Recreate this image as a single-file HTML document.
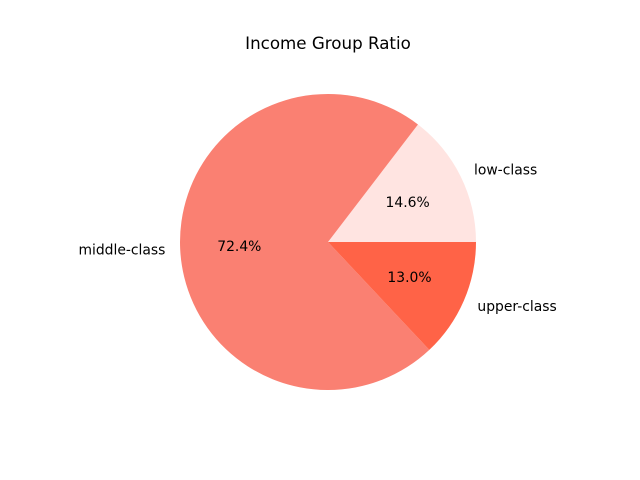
<!DOCTYPE html>
<html>
<head>
<meta charset="utf-8">
<style>
html,body{margin:0;padding:0;background:#fff;}
svg{display:block;font-family:"DejaVu Sans","Liberation Sans",sans-serif;}
</style>
</head>
<body>
<svg id="chart" width="640" height="480" viewBox="0 0 640 480">
<rect width="640" height="480" fill="#fff"/>
<text x="328" y="49" text-anchor="middle" font-size="16.7" fill="#000">Income Group Ratio</text>
<g id="slices"></g>
</svg>
<script>
const categories = ["low-class", "middle-class", "upper-class"];
const values = [14.6, 72.4, 13.0];
const colors = ["#FFE4E1", "#FA8072", "#FF6347"];

const svg = document.getElementById('chart');
const g = document.getElementById('slices');
const NS = 'http://www.w3.org/2000/svg';
const cx = 328, cy = 242, R = 148;
const total = values.reduce((a, b) => a + b, 0);
function pt(a, r) { return [cx + r * Math.cos(a), cy - r * Math.sin(a)]; }
let start = 0;
values.forEach((v, i) => {
  const sweep = v / total * 2 * Math.PI;
  const end = start + sweep;
  const [x1, y1] = pt(start, R), [x2, y2] = pt(end, R);
  const large = sweep > Math.PI ? 1 : 0;
  const p = document.createElementNS(NS, 'path');
  p.setAttribute('d', `M${cx},${cy} L${x1},${y1} A${R},${R} 0 ${large} 0 ${x2},${y2} Z`);
  p.setAttribute('fill', colors[i]);
  
  
  g.appendChild(p);
  const mid = start + sweep / 2;
  const [lx, ly] = pt(mid, R * 1.1);
  const t = document.createElementNS(NS, 'text');
  t.setAttribute('x', lx);
  t.setAttribute('y', ly + 4.5);
  t.setAttribute('font-size', '13.9');
  t.setAttribute('text-anchor', Math.cos(mid) >= 0 ? 'start' : 'end');
  t.textContent = categories[i];
  
  
  svg.appendChild(t);
  const [px, py] = pt(mid, R * 0.6);
  const tp = document.createElementNS(NS, 'text');
  tp.setAttribute('x', px);
  tp.setAttribute('y', py + 4.5);
  tp.setAttribute('font-size', '13.9');
  tp.setAttribute('text-anchor', 'middle');
  tp.textContent = (v / total * 100).toFixed(1) + '%';
  
  
  svg.appendChild(tp);
  start = end;
});
</script>
</body>
</html>
